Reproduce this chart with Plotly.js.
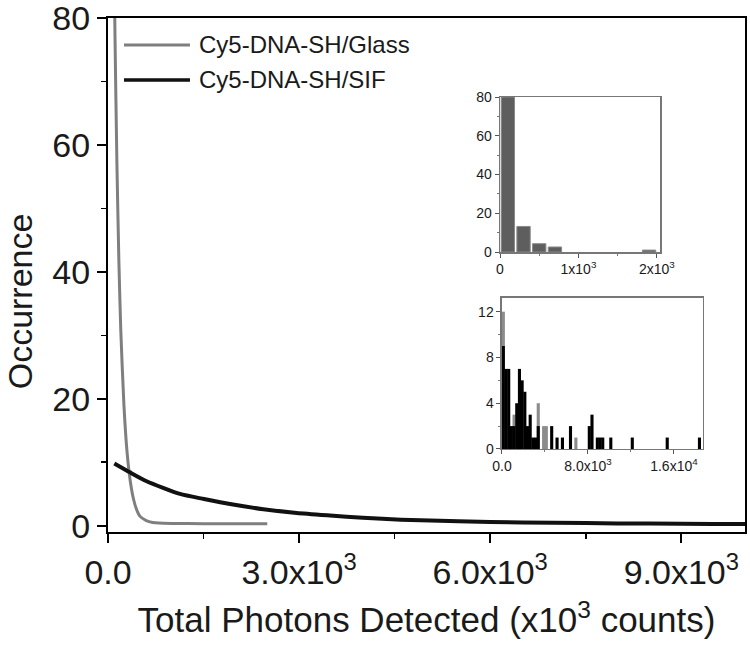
<!DOCTYPE html>
<html>
<head>
<meta charset="utf-8">
<script src="https://cdn.plot.ly/plotly-3.0.1.min.js"></script>
<style>html,body{margin:0;padding:0;background:#fff;}#chart{width:750px;height:652px;}</style>
</head>
<body>
<div id="chart"></div>
<script>
// ---- main curves ----
const seriesNames = ['Cy5-DNA-SH/Glass', 'Cy5-DNA-SH/SIF'];
const glassX = [50, 80, 110, 140, 170, 200, 250, 300, 350, 400, 450, 500, 600, 700, 800, 1000, 1500, 2000, 2500];
const glassY = [140, 103, 77, 57, 42, 31, 19, 11.5, 7, 4.2, 2.5, 1.5, 0.8, 0.5, 0.4, 0.35, 0.3, 0.3, 0.3];
const sifX = [99, 345, 607, 1130, 1507, 1915, 2438, 2962, 3485, 4000, 4600, 5500, 6500, 7500, 8500, 9500, 10000];
const sifY = [9.8, 8.4, 7.0, 5.0, 4.2, 3.4, 2.6, 2.0, 1.6, 1.25, 0.95, 0.7, 0.5, 0.4, 0.32, 0.28, 0.27];

// ---- main axis ticks ----
const mainXTickVals = [0, 3000, 6000, 9000];
const mainXTickText = ['0.0', '3.0x10<sup>3</sup>', '6.0x10<sup>3</sup>', '9.0x10<sup>3</sup>'];
const mainYTickVals = [0, 20, 40, 60, 80];

// ---- inset 1 (Glass histogram) ----
const inset1X = [100, 300, 500, 700, 1900];
const inset1Y = [80, 13.2, 4.3, 2.6, 1];
const inset1XTickVals = [0, 1000, 2000];
const inset1XTickText = ['0', '1x10<sup>3</sup>', '2x10<sup>3</sup>'];
const inset1YTickVals = [0, 20, 40, 60, 80];

// ---- inset 2 (overlaid histograms) ----
const inset2GrayX = [125, 1125, 3375, 3875, 4125, 6875];
const inset2GrayY = [12, 3, 4, 2, 2, 1];
const inset2BlackX = [125, 375, 625, 875, 1125, 1375, 1625, 1875, 2125, 2375, 2625, 2875, 3125, 3375,
                      4625, 5125, 5625, 6375, 8125, 8375, 8875, 9125, 9375, 10125, 12125, 15375, 18375];
const inset2BlackY = [9, 7, 7, 2, 2, 4, 7, 6, 5, 2, 3, 1, 1, 2,
                      2, 1, 1, 2, 2, 3, 1, 1, 1, 1, 1, 1, 1];
const inset2XTickVals = [0, 8000, 16000];
const inset2XTickText = ['0.0', '8.0x10<sup>3</sup>', '1.6x10<sup>4</sup>'];
const inset2YTickVals = [0, 4, 8, 12];

const FONT = 'Liberation Sans, Arial, sans-serif';
const INK = '#1a1a1a';

const traces = [
  {x: glassX, y: glassY, type: 'scatter', mode: 'lines', name: seriesNames[0],
   line: {color: '#7f7f7f', width: 3, shape: 'spline', smoothing: 0.6}, showlegend: false, xaxis: 'x', yaxis: 'y'},
  {x: sifX, y: sifY, type: 'scatter', mode: 'lines', name: seriesNames[1],
   line: {color: '#111111', width: 4, shape: 'spline', smoothing: 0.6}, showlegend: false, xaxis: 'x', yaxis: 'y'},
  {x: inset1X, y: inset1Y, type: 'bar', width: 170, name: 'Glass hist',
   marker: {color: '#5e5e5e', line: {color: '#8a8a8a', width: 1}}, showlegend: false, xaxis: 'x2', yaxis: 'y2'},
  {x: inset2GrayX, y: inset2GrayY, type: 'bar', width: 290, name: 'Glass',
   marker: {color: '#8c8c8c', line: {width: 0}}, showlegend: false, xaxis: 'x3', yaxis: 'y3'},
  {x: inset2BlackX, y: inset2BlackY, type: 'bar', width: 290, name: 'SIF',
   marker: {color: '#000000', line: {width: 0}}, showlegend: false, xaxis: 'x3', yaxis: 'y3'}
];

const insetAxisBase = {
  showgrid: false, zeroline: false, showline: true, linecolor: '#777', linewidth: 1.5, mirror: true,
  ticks: 'outside', ticklen: 4, tickwidth: 1, tickcolor: '#555',
  tickfont: {family: FONT, size: 14, color: INK}, tickmode: 'array', ticklabeloverflow: 'allow'
};

const layout = {
  width: 750, height: 652,
  margin: {l: 108, r: 5, t: 18, b: 120},
  paper_bgcolor: '#fff', plot_bgcolor: '#fff',
  barmode: 'overlay',
  font: {family: FONT, color: INK},
  xaxis: {
    domain: [0, 1], range: [0, 10000], anchor: 'y',
    showgrid: false, zeroline: false, showline: true, linecolor: '#000', linewidth: 2, mirror: true,
    ticks: 'outside', ticklen: 9, tickwidth: 2, tickcolor: '#000',
    tickmode: 'array', tickvals: mainXTickVals, ticktext: mainXTickText,
    tickfont: {family: FONT, size: 34, color: INK}, ticklabeloverflow: 'allow',
    minor: {dtick: 1500, tick0: 0, ticklen: 5, tickwidth: 1.5, tickcolor: '#000', ticks: 'outside'},
    title: {text: 'Total Photons Detected (x10<sup>3</sup> counts)', font: {family: FONT, size: 35, color: INK}, standoff: 18}
  },
  yaxis: {
    domain: [0, 1], range: [-1, 80.01], anchor: 'x',
    showgrid: false, zeroline: false, showline: true, linecolor: '#000', linewidth: 2, mirror: true,
    ticks: 'outside', ticklen: 9, tickwidth: 2, tickcolor: '#000',
    tickmode: 'array', tickvals: mainYTickVals,
    tickfont: {family: FONT, size: 34, color: INK}, ticklabeloverflow: 'allow',
    minor: {dtick: 10, tick0: 0, ticklen: 5, tickwidth: 1.5, tickcolor: '#000', ticks: 'outside'}
  },
  xaxis2: Object.assign({}, insetAxisBase, {
    domain: [0.6154, 0.8666], range: [0, 2040], anchor: 'y2',
    tickvals: inset1XTickVals, ticktext: inset1XTickText,
    minor: {dtick: 500, tick0: 0, ticklen: 2, tickcolor: '#777', ticks: 'outside'}
  }),
  yaxis2: Object.assign({}, insetAxisBase, {
    domain: [0.5447, 0.8463], range: [0, 80.01], anchor: 'x2',
    tickvals: inset1YTickVals,
    minor: {dtick: 10, tick0: 0, ticklen: 2, tickcolor: '#777', ticks: 'outside'}
  }),
  xaxis3: Object.assign({}, insetAxisBase, {
    domain: [0.6185, 0.934], range: [0, 18700], anchor: 'y3',
    tickvals: inset2XTickVals, ticktext: inset2XTickText,
    minor: {dtick: 4000, tick0: 0, ticklen: 2, tickcolor: '#777', ticks: 'outside'}
  }),
  yaxis3: Object.assign({}, insetAxisBase, {
    domain: [0.1615, 0.4553], range: [0, 13.2], anchor: 'x3',
    tickvals: inset2YTickVals,
    minor: {dtick: 2, tick0: 0, ticklen: 2, tickcolor: '#777', ticks: 'outside'}
  }),
  shapes: [
    {type: 'line', xref: 'paper', yref: 'paper', x0: 0.0251, x1: 0.1287, y0: 0.9475, y1: 0.9475,
     line: {color: '#7f7f7f', width: 3}},
    {type: 'line', xref: 'paper', yref: 'paper', x0: 0.0251, x1: 0.1287, y0: 0.8794, y1: 0.8794,
     line: {color: '#111111', width: 3.5}}
  ],
  annotations: [
    {xref: 'paper', yref: 'paper', x: 0.1397, y: 0.9475, xanchor: 'left', yanchor: 'middle', showarrow: false,
     text: seriesNames[0], font: {family: FONT, size: 24, color: INK}},
    {xref: 'paper', yref: 'paper', x: 0.1397, y: 0.8794, xanchor: 'left', yanchor: 'middle', showarrow: false,
     text: seriesNames[1], font: {family: FONT, size: 24, color: INK}},
    {xref: 'paper', yref: 'paper', x: -0.138, y: 0.449, xanchor: 'center', yanchor: 'middle', showarrow: false,
     textangle: -90, text: 'Occurrence', font: {family: FONT, size: 34, color: INK}}
  ]
};

Plotly.newPlot('chart', traces, layout, {displayModeBar: false, staticPlot: true});
</script>
</body>
</html>
